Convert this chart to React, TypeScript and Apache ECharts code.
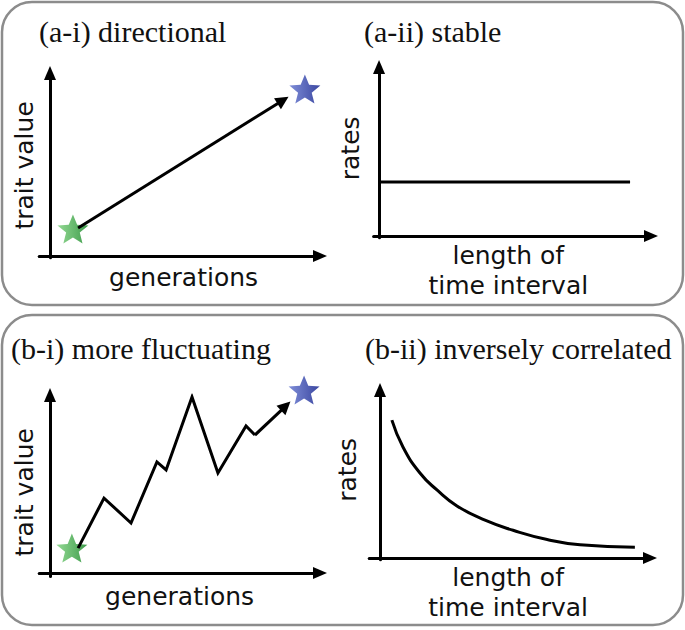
import React, { useEffect, useRef } from 'react';
import * as echarts from 'echarts';

// ---- texts ----
const panelTitles = ['(a-i) directional', '(a-ii) stable', '(b-i) more fluctuating', '(b-ii) inversely correlated'];
const xAxisNames = ['generations', 'length of\ntime interval', 'generations', 'length of\ntime interval'];
const yAxisNames = ['trait value', 'rates', 'trait value', 'rates'];

// ---- data (schematic units, 0..100 on each axis) ----
const directionalPath = [[10.4, 15.3], [86.3, 85.1]];
const directionalStart = [[8.5, 14.8]];
const directionalEnd = [[94.4, 91.3]];

const stableRates = [[0, 32.0], [92.3, 32.0]];

const fluctuatingPath = [
  [10.4, 14.0], [20.0, 42.1], [30.0, 28.1], [39.6, 62.4], [43.0, 57.9],
  [52.6, 98.9], [62.2, 56.2], [72.6, 82.6], [75.9, 77.5], [87.3, 93.8],
];
const fluctuatingStart = [[8.1, 14.0]];
const fluctuatingEnd = [[94.1, 102.8]];

const inverseRates = [
  [4.4, 82.1], [8.5, 66.1], [14.8, 50.6], [21.1, 40.5], [28.5, 31.0],
  [38.9, 22.5], [49.3, 16.5], [61.9, 11.0], [74.1, 7.9], [94.4, 6.4],
];

const STAR =
  'path://M50,0 L62.93,32.2 L97.55,34.55 L70.92,56.8 L79.39,90.45 L50,72 L20.61,90.45 L29.08,56.8 L2.45,34.55 L37.07,32.2 Z';

const greenGrad = () =>
  new echarts.graphic.LinearGradient(0, 0, 1, 0, [
    { offset: 0, color: '#93d993' },
    { offset: 1, color: '#3f9c4c' },
  ]);
const blueGrad = () =>
  new echarts.graphic.LinearGradient(0, 0, 1, 0, [
    { offset: 0, color: '#7f8ed8' },
    { offset: 1, color: '#3a46a0' },
  ]);

const grids = [
  { left: 39.2, top: 73, width: 280.8, height: 184.8 },
  { left: 373.6, top: 67, width: 277.4, height: 170.7 },
  { left: 39.2, top: 395, width: 280.8, height: 181.6 },
  { left: 369.2, top: 390, width: 280.8, height: 169.7 },
];
const xMins = [-4, -2, -4, -4];
const yMins = [-1, -1, -2, -1];
const xNameGaps = [5, 3, 5, 3];
const yNameGaps = [2, 11, 2, 9];
const xNamePad = [[0, 0, 0, 8], [0, 8, 0, 0], [0, 0, 0, 0], [0, 3, 0, 0]];
const yNamePad = [[0, 0, 0, 0], [0, 0, 0, 8], [0, 13, 0, 0], [0, 0, 0, 10]];
const titlePos = [[39, 31], [364, 31], [11, 348], [365, 348]];

const AXIS_FONT = '"DejaVu Sans", sans-serif';
const TITLE_FONT = '"Liberation Serif", "Times New Roman", serif';

export default function App() {
  const ref = useRef<HTMLDivElement>(null);

  useEffect(() => {
    document.body.style.margin = '0';
    if (!ref.current) return;
    const chart = echarts.init(ref.current, undefined, { renderer: 'svg' });

    const lineStyle = { color: '#000', width: 3, opacity: 1 };

    const xAxis = grids.map((_, i) => ({
      gridIndex: i,
      type: 'value',
      min: xMins[i],
      max: 100,
      axisLine: {
        show: true,
        onZero: true,
        symbol: ['none', 'triangle'],
        symbolSize: [12, 14],
        lineStyle: { color: '#000', width: 3 },
      },
      axisTick: { show: false },
      axisLabel: { show: false },
      splitLine: { show: false },
      name: xAxisNames[i],
      nameLocation: 'middle',
      nameGap: xNameGaps[i],
      nameTextStyle: {
        fontFamily: AXIS_FONT,
        fontSize: 25,
        color: '#111',
        lineHeight: 30,
        verticalAlign: 'top',
        padding: xNamePad[i],
      },
    }));

    const yAxis = grids.map((_, i) => ({
      gridIndex: i,
      type: 'value',
      min: yMins[i],
      max: 100,
      axisLine: {
        show: true,
        onZero: true,
        symbol: ['none', 'triangle'],
        symbolSize: [12, 14],
        lineStyle: { color: '#000', width: 3 },
      },
      axisTick: { show: false },
      axisLabel: { show: false },
      splitLine: { show: false },
      name: yAxisNames[i],
      nameLocation: 'middle',
      nameGap: yNameGaps[i],
      nameTextStyle: {
        fontFamily: AXIS_FONT,
        fontSize: 25,
        color: '#111',
        padding: yNamePad[i],
      },
    }));

    const star = (data: number[][], idx: number, grad: any) => ({
      type: 'scatter',
      xAxisIndex: idx,
      yAxisIndex: idx,
      data,
      symbol: STAR,
      symbolSize: [31, 29],
      clip: false,
      silent: true,
      z: 2,
      itemStyle: { color: grad, opacity: 1 },
    });

    const arrow = (a: number[], b: number[], idx: number) => ({
      type: 'lines',
      coordinateSystem: 'cartesian2d',
      xAxisIndex: idx,
      yAxisIndex: idx,
      data: [{ coords: [a, b] }],
      symbol: ['none', 'triangle'],
      symbolSize: 13,
      lineStyle: { ...lineStyle, curveness: 0 },
      silent: true,
      z: 3,
    });

    const fpLast = fluctuatingPath.length - 1;

    const option = {
      animation: false,
      backgroundColor: '#fff',
      grid: grids.map((g) => ({ ...g, containLabel: false })),
      xAxis,
      yAxis,
      graphic: [
        {
          type: 'rect',
          shape: { x: 2, y: 2, width: 681, height: 303, r: 30 },
          style: { fill: 'none', stroke: '#8c8c8c', lineWidth: 2.5 },
          silent: true,
        },
        {
          type: 'rect',
          shape: { x: 2, y: 315, width: 681, height: 310, r: 30 },
          style: { fill: 'none', stroke: '#8c8c8c', lineWidth: 2.5 },
          silent: true,
        },
        ...panelTitles.map((t, i) => ({
          type: 'text',
          x: titlePos[i][0],
          y: titlePos[i][1],
          silent: true,
          style: {
            text: t,
            fontFamily: TITLE_FONT,
            fontSize: 30,
            fill: '#111',
            align: 'left',
            verticalAlign: 'middle',
          },
        })),
      ],
      series: [
        // (a-i)
        star(directionalStart, 0, greenGrad()),
        star(directionalEnd, 0, blueGrad()),
        arrow(directionalPath[0], directionalPath[1], 0),
        // (a-ii)
        {
          type: 'line',
          xAxisIndex: 1,
          yAxisIndex: 1,
          data: stableRates,
          symbol: 'none',
          lineStyle,
          silent: true,
          z: 3,
        },
        // (b-i)
        star(fluctuatingStart, 2, greenGrad()),
        star(fluctuatingEnd, 2, blueGrad()),
        {
          type: 'line',
          xAxisIndex: 2,
          yAxisIndex: 2,
          data: fluctuatingPath.slice(0, fpLast),
          symbol: 'none',
          lineStyle: { ...lineStyle, join: 'miter' },
          silent: true,
          z: 3,
        },
        arrow(fluctuatingPath[fpLast - 1], fluctuatingPath[fpLast], 2),
        // (b-ii)
        {
          type: 'line',
          xAxisIndex: 3,
          yAxisIndex: 3,
          data: inverseRates,
          symbol: 'none',
          smooth: 0.5,
          lineStyle,
          silent: true,
          z: 3,
        },
      ],
    };

    chart.setOption(option as any);
    return () => chart.dispose();
  }, []);

  return <div ref={ref} style={{ width: 685, height: 630 }} />;
}
